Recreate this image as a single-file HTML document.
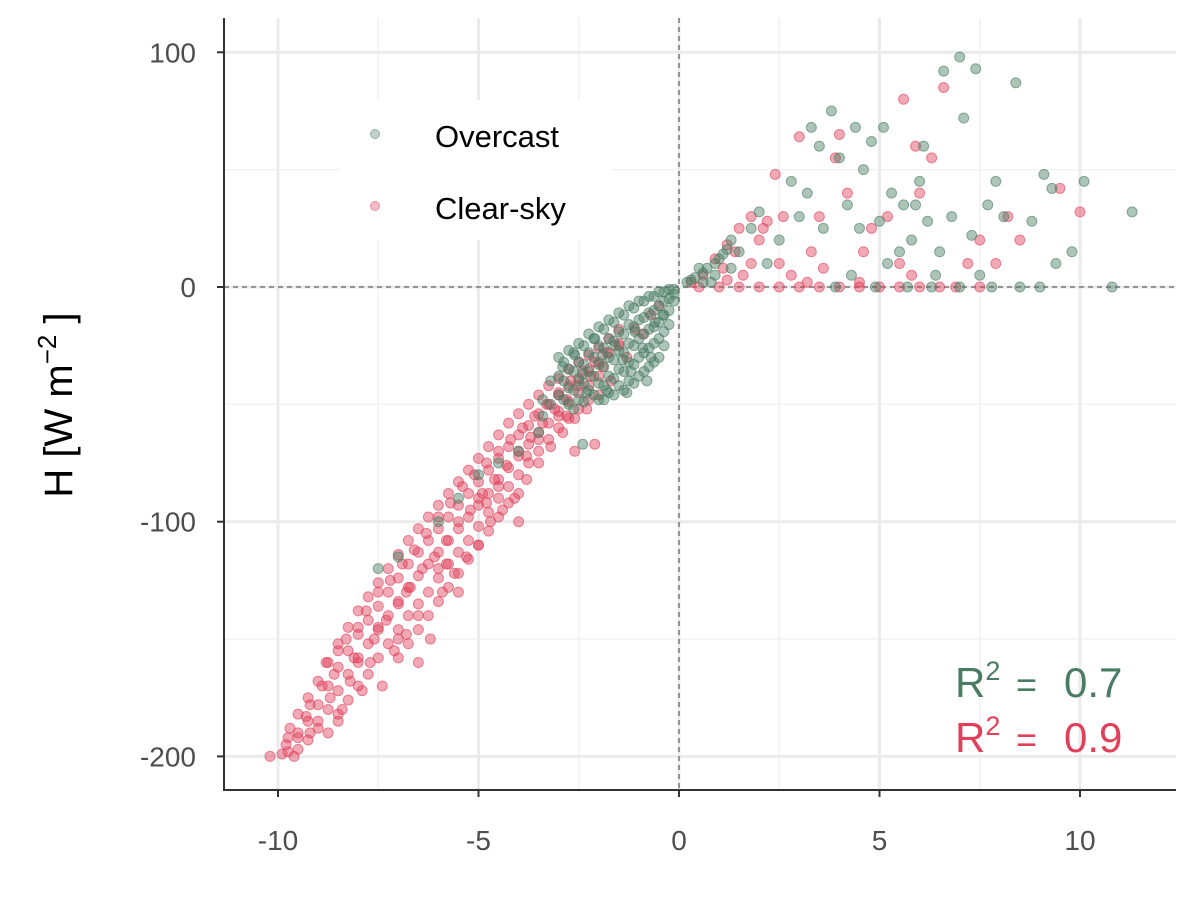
<!DOCTYPE html>
<html><head><meta charset="utf-8"><style>
body{margin:0;background:#fff;}
svg text{font-family:"Liberation Sans",Arial,sans-serif;}
</style></head><body>
<svg id="chart" width="1200" height="900" viewBox="0 0 1200 900">
<g id="grid"></g>
<g id="refs"></g>
<g id="pts"></g>
<g id="axes"></g>
<rect x="340" y="100" width="270" height="140" fill="#fff"/>
<g>
<circle cx="375" cy="134" r="4.5" fill="#4a7c63" fill-opacity="0.35" stroke="#4a7c63" stroke-opacity="0.5"/>
<text x="435" y="147" font-size="31" fill="#000">Overcast</text>
<circle cx="375" cy="206" r="4.5" fill="#e0405a" fill-opacity="0.35" stroke="#e0405a" stroke-opacity="0.5"/>
<text x="435" y="219" font-size="31" fill="#000">Clear-sky</text>
</g>
<g fill="#4a7c63">
<text x="955" y="697" font-size="42">R<tspan dy="-17" font-size="27">2</tspan></text>
<text x="1016" y="697" font-size="36">=</text>
<text x="1064" y="697" font-size="42">0.7</text>
</g>
<g fill="#e0405a">
<text x="955" y="752" font-size="42">R<tspan dy="-17" font-size="27">2</tspan></text>
<text x="1016" y="752" font-size="36">=</text>
<text x="1064" y="752" font-size="42">0.9</text>
</g>
<text transform="translate(72,405) rotate(-90)" text-anchor="middle" font-size="40" fill="#000">H [W m<tspan dy="-16" font-size="26">−2</tspan><tspan dy="16"> ]</tspan></text>
</svg>
<script>
const xTicks=[-10,-5,0,5,10];
const yTicks=[100,0,-100,-200];
const xMinor=[-7.5,-2.5,2.5,7.5];
const yMinor=[50,-50,-150];
const clearX=[-10.2,-9.9,-9.8,-9.7,-9.6,-9.5,-9.3,-9.2,-9.0,-8.9,-8.8,-8.7,-8.6,-8.5,-8.4,-8.3,-8.2,-8.1,-8.0,-7.9,-7.8,-7.7,-7.6,-7.5,-7.4,-7.3,-7.2,-7.1,-7.0,-6.9,-6.8,-6.7,-6.6,-6.5,-6.4,-6.3,-6.2,-6.1,-6.0,-5.9,-5.8,-5.7,-5.6,-5.5,-5.4,-5.3,-5.2,-5.1,-5.0,-4.9,-4.8,-4.7,-4.6,-4.5,-4.4,-4.3,-4.2,-4.1,-4.0,-3.9,-3.8,-3.7,-3.6,-3.5,-3.4,-3.3,-3.2,-3.1,-3.0,-2.9,-2.8,-2.7,-2.6,-2.5,-2.4,-2.3,-2.2,-2.1,-2.0,-1.9,-1.8,-1.7,-1.5,-1.3,-1.1,-0.9,-0.7,-0.5,-2.6,-4.0,-2.1,-6.5,-7.0,-5.5,-8.5,-9.2,-5.0,-6.0,-7.5,-4.5,-3.5,-3.0,-8.0,-6.8,-5.8,-4.8,-3.8,-2.8,
-9.75,-9.75,-9.5,-9.5,-9.5,-9.25,-9.25,-9.25,-9,-9,-9,-8.75,-8.75,-8.75,-8.75,-8.5,-8.5,-8.5,-8.5,-8.25,-8.25,-8.25,-8.25,-8,-8,-8,-8,-7.75,-7.75,-7.75,-7.75,-7.5,-7.5,-7.5,-7.5,-7.25,-7.25,-7.25,-7.25,
-7,-7,-7,-7,-7,-6.75,-6.75,-6.75,-6.75,-6.75,-6.5,-6.5,-6.5,-6.5,-6.5,-6.25,-6.25,-6.25,-6.25,-6.25,-6,-6,-6,-6,-6,
-5.75,-5.75,-5.75,-5.75,-5.75,-5.5,-5.5,-5.5,-5.5,-5.5,-5.25,-5.25,-5.25,-5.25,-5.25,-5,-5,-5,-5,-5,
-4.75,-4.75,-4.75,-4.75,-4.75,-4.5,-4.5,-4.5,-4.5,-4.5,-4.25,-4.25,-4.25,-4.25,-4.25,-4,-4,-4,-4,-4,
-3.75,-3.75,-3.75,-3.75,-3.5,-3.5,-3.5,-3.5,-3.25,-3.25,-3.25,-3.25,-3,-3,-3,-3,-2.75,-2.75,-2.75,-2.75,-2.5,-2.5,-2.5,-2.5,-2.25,-2.25,-2.25,-2.25,-2,-2,-2,-1.75,-1.75,-1.5,-1.5,
0.3,0.6,0.9,1.2,1.5,1.8,2.0,2.2,2.5,2.8,3.0,3.3,3.6,3.9,4.2,4.5,4.8,5.2,5.6,5.9,6.3,6.6,6.9,7.2,7.5,7.9,8.2,8.5,9.5,10.0,1.0,2.0,3.0,4.0,5.0,6.0,3.5,4.0,5.5,6.0,2.4,1.6,3.2,4.6,5.8,
0.5,1.5,2.5,3.5,4.5,5.5,6.5,7.5,1.2,1.8,1.4,2.1,2.6,1.1];
const clearY=[-200,-199,-195,-188,-200,-192,-183,-178,-185,-170,-160,-175,-165,-155,-180,-150,-168,-158,-145,-172,-138,-160,-150,-130,-170,-142,-125,-155,-135,-118,-148,-128,-112,-140,-120,-105,-150,-115,-98,-130,-108,-92,-122,-100,-85,-115,-95,-80,-110,-88,-75,-100,-82,-70,-95,-76,-65,-90,-70,-60,-82,-64,-55,-75,-58,-50,-68,-52,-45,-62,-48,-40,-56,-42,-36,-52,-38,-32,-46,-34,-28,-40,-25,-30,-18,-20,-12,-8,-70,-100,-67,-160,-150,-130,-185,-190,-90,-120,-145,-85,-65,-55,-160,-130,-118,-92,-72,-55,
-192,-198,-182,-190,-197,-175,-185,-193,-168,-178,-188,-160,-170,-180,-190,-152,-162,-172,-182,-145,-155,-165,-176,-138,-148,-158,-170,-132,-142,-152,-165,-126,-136,-146,-158,-120,-130,-140,-152,
-114,-124,-134,-146,-158,-108,-118,-128,-140,-152,-103,-113,-123,-135,-146,-98,-108,-118,-130,-140,-93,-103,-113,-124,-134,
-88,-98,-108,-118,-128,-83,-93,-103,-113,-122,-78,-88,-98,-108,-116,-73,-83,-93,-102,-110,
-68,-78,-88,-96,-104,-63,-73,-82,-90,-98,-58,-68,-77,-85,-92,-54,-63,-72,-80,-88,
-50,-59,-67,-75,-46,-54,-62,-70,-42,-50,-58,-65,-39,-46,-53,-60,-35,-42,-49,-56,-32,-39,-45,-52,-29,-35,-42,-48,-26,-32,-38,-22,-28,-18,-24,
2,5,12,18,25,30,20,28,10,5,64,15,8,55,40,2,25,30,80,60,55,85,0,10,20,10,30,20,42,32,0,0,0,0,0,0,30,65,10,40,48,5,2,15,5,
0,0,0,0,0,0,0,0,3,10,15,25,30,8];
const overX=[-3,-3,-3,-2.75,-2.75,-2.75,-2.75,-2.5,-2.5,-2.5,-2.5,-2.25,-2.25,-2.25,-2.25,-2,-2,-2,-2,-2,-1.75,-1.75,-1.75,-1.75,-1.75,-1.5,-1.5,-1.5,-1.5,-1.5,-1.25,-1.25,-1.25,-1.25,-1.25,-1,-1,-1,-1,-1,-0.75,-0.75,-0.75,-0.75,-0.75,-0.5,-0.5,-0.5,-0.5,-0.5,-0.25,-0.25,-0.25,-0.25,-1.3,-0.8,
-2.9,-2.6,-2.4,-2.1,-1.9,-1.6,-1.4,-1.1,-0.9,-0.6,-0.4,-2.3,-1.8,-1.2,-0.7,
-4,-5,-6,-7,-7.5,-3.5,-2.4,-4.5,-5.5,
-3.4,-3.4,-3.2,-3.2,-2.875,-2.875,-2.875,-2.625,-2.625,-2.625,-2.625,-2.375,-2.375,-2.375,-2.375,-2.125,-2.125,-2.125,-2.125,-1.875,-1.875,-1.875,-1.875,-1.875,-1.625,-1.625,-1.625,-1.625,-1.625,-1.375,-1.375,-1.375,-1.375,-1.375,-1.125,-1.125,-1.125,-1.125,-1.125,-0.875,-0.875,-0.875,-0.875,-0.875,-0.625,-0.625,-0.625,-0.625,-0.625,-0.375,-0.375,-0.375,-0.375,-0.375,-0.125,-0.125,-0.125,
0.3,0.6,0.9,1.1,0.5,0.8,1.3,2.5,2.8,3.0,3.2,3.5,3.8,4.0,4.2,4.4,4.6,4.8,5.0,5.1,5.3,5.5,5.6,5.8,6.0,6.2,6.4,6.6,6.8,7.0,7.1,7.3,7.4,7.7,7.9,8.1,8.4,8.5,9.1,9.3,9.4,9.8,10.1,10.8,11.3,3.6,4.3,4.9,5.7,6.3,7.0,7.8,3.9,2.2,1.8,2.0,3.3,4.5,5.2,6.5,7.5,8.8,9.0,6.1,5.9,
0.2,0.4,0.7,1.0,1.2,0.9,0.6,1.3,1.5];
const overY=[-30,-38,-46,-27,-35,-43,-50,-24,-32,-40,-48,-20,-28,-36,-44,-17,-25,-33,-41,-48,-14,-22,-30,-38,-45,-11,-19,-27,-35,-42,-8,-16,-24,-32,-40,-6,-14,-22,-30,-38,-4,-11,-18,-26,-34,-2,-8,-15,-22,-30,-1,-5,-10,-16,-45,-40,
-34,-29,-37,-22,-29,-25,-31,-19,-26,-15,-12,-45,-44,-36,-30,
-70,-80,-100,-115,-120,-62,-67,-75,-90,
-48,-55,-40,-50,-32,-40,-48,-28,-36,-44,-52,-25,-33,-41,-49,-22,-30,-38,-46,-18,-26,-34,-42,-48,-15,-23,-31,-39,-46,-12,-20,-28,-36,-44,-9,-17,-25,-33,-41,-6,-13,-20,-28,-36,-4,-10,-17,-24,-32,-2,-6,-12,-19,-25,-1,-3,-6,
3,6,10,14,8,2,20,20,45,30,40,60,75,55,35,68,50,62,28,68,40,15,35,20,45,28,5,92,30,98,72,22,93,35,45,30,87,0,48,42,10,15,45,0,32,25,5,0,0,0,0,0,0,10,25,32,68,25,10,15,5,28,0,60,35,
2,4,8,12,16,5,2,8,15];

const X0=679,XS=40.1,Y0=287,YS=2.347;
const sx=v=>X0+v*XS, sy=v=>Y0-v*YS;
const L=224,R=1176,T=18,B=790;
const NS="http://www.w3.org/2000/svg";
function mk(tag,attrs,parent){const e=document.createElementNS(NS,tag);for(const k in attrs)e.setAttribute(k,attrs[k]);parent.appendChild(e);return e;}
const grid=document.getElementById('grid'),refs=document.getElementById('refs'),pts=document.getElementById('pts'),axes=document.getElementById('axes');
xMinor.forEach(v=>{const e=mk('line',{x1:sx(v),x2:sx(v),y1:T,y2:B,stroke:'#f2f2f2','stroke-width':1.5},grid);

});
yMinor.forEach(v=>{const e=mk('line',{x1:L,x2:R,y1:sy(v),y2:sy(v),stroke:'#f2f2f2','stroke-width':1.5},grid);

});
xTicks.forEach(v=>{const e=mk('line',{x1:sx(v),x2:sx(v),y1:T,y2:B,stroke:'#ebebeb','stroke-width':3},grid);


const t=mk('line',{x1:sx(v),x2:sx(v),y1:B,y2:B+7,stroke:'#333','stroke-width':2},axes);


const l=mk('text',{x:sx(v),y:850,'text-anchor':'middle','font-size':28,fill:'#4d4d4d'},axes);l.textContent=v;

});
yTicks.forEach(v=>{const e=mk('line',{x1:L,x2:R,y1:sy(v),y2:sy(v),stroke:'#ebebeb','stroke-width':3},grid);


const t=mk('line',{x1:L-7,x2:L,y1:sy(v),y2:sy(v),stroke:'#333','stroke-width':2},axes);


const l=mk('text',{x:L-28,y:sy(v)+10,'text-anchor':'end','font-size':28,fill:'#4d4d4d'},axes);l.textContent=v;

});
const h=mk('line',{x1:L,x2:R,y1:sy(0),y2:sy(0),stroke:'#777','stroke-width':1.5,'stroke-dasharray':'5,4'},refs);


const vl=mk('line',{x1:sx(0),x2:sx(0),y1:T,y2:B,stroke:'#777','stroke-width':1.5,'stroke-dasharray':'5,4'},refs);


function drawSeries(xs,ys,col,name){xs.forEach((x,i)=>{const c=mk('circle',{cx:sx(x),cy:sy(ys[i]),r:5,fill:col,'fill-opacity':0.45,stroke:col,'stroke-opacity':0.6,'stroke-width':1},pts);

});}
drawSeries(clearX,clearY,'#e0405a','clear-sky-point');
drawSeries(overX,overY,'#4a7c63','overcast-point');
const ax=mk('path',{d:`M${L},${T} V${B} H${R}`,fill:'none',stroke:'#333','stroke-width':2},axes);


</script>
</body></html>
